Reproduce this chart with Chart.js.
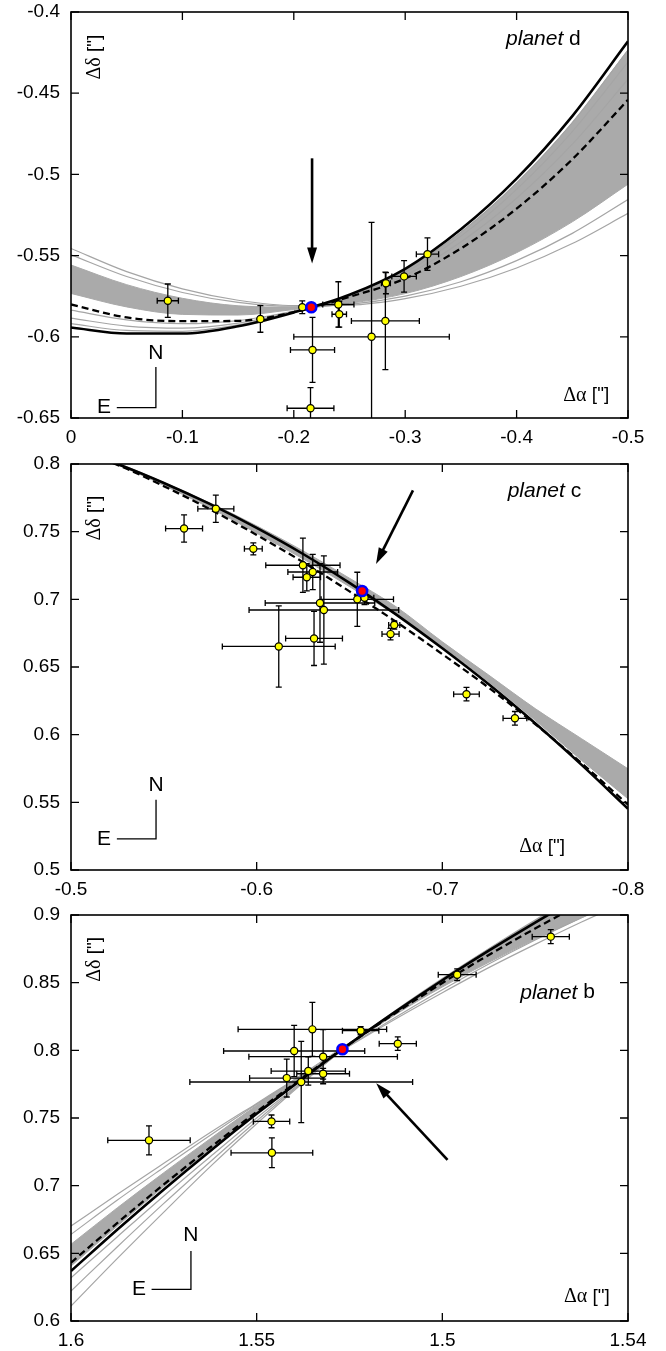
<!DOCTYPE html>
<html lang="en">
<head>
<meta charset="UTF-8">
<title>Orbit fits of planets d, c and b</title>
<script src="https://cdn.jsdelivr.net/npm/chart.js"></script>
<style>
  body { margin: 0; background: #fff; }
  .wrap { position: relative; width: 666px; height: 1351px; }
  canvas { position: absolute; left: 0; }
</style>
</head>
<body>
<div class="wrap">
  <canvas id="chartD" width="666" height="451" style="top:0"></canvas>
  <canvas id="chartC" width="666" height="451" style="top:451px"></canvas>
  <canvas id="chartB" width="666" height="449" style="top:902px"></canvas>
</div>
<script>
const SANS = '"Liberation Sans", Arial, sans-serif';
const SERIF = '"Liberation Serif", "Times New Roman", serif';

// ---------- planet d ----------
const dGridX = [0, -0.05, -0.1, -0.15, -0.2, -0.25, -0.3, -0.35, -0.4, -0.45, -0.5];
const dSolid = [-0.5943, -0.5980, -0.5980, -0.5935, -0.5850, -0.5741, -0.5581, -0.5338, -0.5026, -0.4641, -0.4181];
const dDashed = [-0.5801, -0.5881, -0.5904, -0.5902, -0.5848, -0.5754, -0.5641, -0.5456, -0.5211, -0.4907, -0.4541];
const dBandTop = [-0.5558, -0.5679, -0.5763, -0.5809, -0.5817, -0.5745, -0.5590, -0.5356, -0.5053, -0.4681, -0.4234];
const dBandBot = [-0.5733, -0.5816, -0.5862, -0.5866, -0.5832, -0.5794, -0.5734, -0.5629, -0.5482, -0.5292, -0.5060];
const dGrey = [
  [-0.5456, -0.5599, -0.5705, -0.5775, -0.5808, -0.5805, -0.5765, -0.5689, -0.5576, -0.5426, -0.5240],
  [-0.5495, -0.5629, -0.5727, -0.5788, -0.5812, -0.5800, -0.5750, -0.5661, -0.5531, -0.5363, -0.5155],
  [-0.5919, -0.5961, -0.5966, -0.5927, -0.5848, -0.5745, -0.5590, -0.5356, -0.5053, -0.4681, -0.4234],
  [-0.5885, -0.5934, -0.5947, -0.5916, -0.5845, -0.5749, -0.5603, -0.5380, -0.5092, -0.4736, -0.4308],
  [-0.5836, -0.5896, -0.5919, -0.5900, -0.5841, -0.5755, -0.5622, -0.5416, -0.5147, -0.4814, -0.4414]
];
const dPtsX = [-0.0869, -0.170, -0.2076, -0.240, -0.2408, -0.2827, -0.2822, -0.299, -0.320, -0.2698, -0.2168, -0.215];
const dPtsY = [-0.5778, -0.589, -0.5818, -0.5801, -0.5861, -0.567, -0.5902, -0.5628, -0.5491, -0.600, -0.6081, -0.644];
const dErrX = [0.0095, 0, 0, 0.014, 0.0065, 0.004, 0.0305, 0.011, 0.010, 0.0698, 0.0198, 0.021];
const dErrY = [0.0103, 0.0082, 0.0039, 0.014, 0.008, 0.0065, 0.030, 0.0097, 0.010, 0.0705, 0.020, 0.0127];
const dBest = [-0.2157, -0.5818];
const dXTicks = [0, -0.1, -0.2, -0.3, -0.4, -0.5];
const dXLabels = ['0', '-0.1', '-0.2', '-0.3', '-0.4', '-0.5'];
const dYTicks = [-0.4, -0.45, -0.5, -0.55, -0.6, -0.65];
const dYLabels = ['-0.4', '-0.45', '-0.5', '-0.55', '-0.6', '-0.65'];
const dArrow = [-0.2164, -0.4901, -0.2164, -0.5548];

// ---------- planet c ----------
const cGridX = [-0.5, -0.525, -0.55, -0.575, -0.6, -0.625, -0.65, -0.675, -0.7, -0.725, -0.75, -0.775, -0.8];
const cSolid = [0.8118, 0.8, 0.7860, 0.7703, 0.7528, 0.7335, 0.7121, 0.6889, 0.6638, 0.6372, 0.6084, 0.5777, 0.5453];
const cDashed = [0.8106, 0.7993, 0.7836, 0.7664, 0.7476, 0.7275, 0.7059, 0.6835, 0.6595, 0.6347, 0.6078, 0.5789, 0.5483];
const cBandTop = [0.8119, 0.8007, 0.7864, 0.7711, 0.7543, 0.7358, 0.7156, 0.6946, 0.6686, 0.6440, 0.6193, 0.5970, 0.5748];
const cBandBot = [0.8106, 0.7993, 0.7842, 0.7674, 0.7489, 0.7299, 0.7094, 0.6884, 0.6649, 0.6390, 0.6106, 0.5810, 0.5526];
const cGrey = [];
const cPtsX = [-0.5609, -0.578, -0.5982, -0.6249, -0.6302, -0.627, -0.6341, -0.6362, -0.6309, -0.6119, -0.6542, -0.6581, -0.6741, -0.6721, -0.713, -0.7391];
const cPtsY = [0.7523, 0.7669, 0.7373, 0.7252, 0.7202, 0.7163, 0.6973, 0.6921, 0.6711, 0.6652, 0.7, 0.7012, 0.681, 0.6743, 0.6299, 0.6121];
const cErrX = [0.00995, 0.0097, 0.0048, 0.020, 0.0134, 0.0074, 0.0295, 0.0403, 0.0153, 0.0304, 0.0195, 0.005, 0.003, 0.0046, 0.0069, 0.0064];
const cErrY = [0.0101, 0.0101, 0.0044, 0.020, 0.013, 0.010, 0.029, 0.040, 0.020, 0.030, 0.020, 0.005, 0.003, 0.0043, 0.005, 0.005];
const cBest = [-0.6568, 0.7062];
const cXTicks = [-0.5, -0.6, -0.7, -0.8];
const cXLabels = ['-0.5', '-0.6', '-0.7', '-0.8'];
const cYTicks = [0.8, 0.75, 0.7, 0.65, 0.6, 0.55, 0.5];
const cYLabels = ['0.8', '0.75', '0.7', '0.65', '0.6', '0.55', '0.5'];
const cArrow = [-0.6842, 0.7805, -0.6643, 0.7262];

// ---------- planet b ----------
const bGridX = [1.6, 1.5875, 1.575, 1.5625, 1.55, 1.5375, 1.525, 1.5125, 1.5, 1.4875, 1.475, 1.4625, 1.45];
const bSolid = [0.6369, 0.6676, 0.6972, 0.7257, 0.7531, 0.7793, 0.8047, 0.8288, 0.8518, 0.8736, 0.8944, 0.9141, 0.9326];
const bDashed = [0.6431, 0.6725, 0.7009, 0.7282, 0.7546, 0.7801, 0.8047, 0.8278, 0.8498, 0.8705, 0.8900, 0.9084, 0.9257];
const bBandTop = [0.6567, 0.6837, 0.7096, 0.7347, 0.7594, 0.7828, 0.8057, 0.8293, 0.8525, 0.8746, 0.8956, 0.9153, 0.9337];
const bBandBot = [0.6406, 0.6702, 0.6993, 0.7268, 0.7539, 0.7791, 0.8039, 0.8266, 0.8468, 0.8650, 0.8820, 0.8980, 0.9128];
const bGrey = [
  [0.6702, 0.6936, 0.7165, 0.7392, 0.7608, 0.7823, 0.8032, 0.8234, 0.8426, 0.8611, 0.8783, 0.8948, 0.9103],
  [0.6640, 0.6894, 0.7135, 0.7372, 0.7601, 0.7820, 0.8034, 0.8246, 0.8448, 0.8638, 0.8815, 0.8980, 0.9135],
  [0.6320, 0.6623, 0.6924, 0.7214, 0.7500, 0.7773, 0.8042, 0.8283, 0.8517, 0.8739, 0.8951, 0.9150, 0.9313],
  [0.6222, 0.6549, 0.6869, 0.7177, 0.7478, 0.7768, 0.8044, 0.8291, 0.8525, 0.8746, 0.8958, 0.9158, 0.9323],
  [0.6111, 0.6463, 0.6805, 0.7141, 0.7458, 0.7761, 0.8047, 0.8296, 0.8530, 0.8751, 0.8963, 0.9163, 0.9330]
];
const bPtsX = [1.579, 1.546, 1.5459, 1.5419, 1.538, 1.5361, 1.5321, 1.5399, 1.535, 1.5321, 1.522, 1.512, 1.496, 1.4708];
const bPtsY = [0.7335, 0.7475, 0.7243, 0.7795, 0.7766, 0.7847, 0.7827, 0.7995, 0.8155, 0.7953, 0.8145, 0.8049, 0.8559, 0.884];
const bErrX = [0.0111, 0.0049, 0.011, 0.010, 0.030, 0.010, 0.0071, 0.019, 0.020, 0.020, 0.0049, 0.005, 0.0051, 0.005];
const bErrY = [0.0107, 0.0047, 0.011, 0.014, 0.030, 0.0104, 0.004, 0.019, 0.020, 0.020, 0.003, 0.005, 0.0043, 0.0052];
const bBest = [1.5269, 0.8008];
const bXTicks = [1.6, 1.55, 1.5, 1.45];
const bXLabels = ['1.6', '1.55', '1.5', '1.54'];
const bYTicks = [0.9, 0.85, 0.8, 0.75, 0.7, 0.65, 0.6];
const bYLabels = ['0.9', '0.85', '0.8', '0.75', '0.7', '0.65', '0.6'];
const bArrow = [1.4986, 0.719, 1.5178, 0.7756];

// annotation anchors, in data units
const dNotes = { name: 'd', nameAt: [-0.4576, -0.4167], ddAt: [-0.021, -0.4278], daAt: [-0.4831, -0.636],
  compass: { x: -0.0762, y: -0.6436, top: -0.6186, left: -0.0411, nY: -0.6099, eX: -0.0297 } };
const cNotes = { name: 'c', nameAt: [-0.7748, 0.7798], ddAt: [-0.5126, 0.76], daAt: [-0.7661, 0.5173],
  compass: { x: -0.5458, y: 0.5230, top: 0.5519, left: -0.5247, nY: 0.5630, eX: -0.5178 } };
const bNotes = { name: 'b', nameAt: [1.4589, 0.8426], ddAt: [1.5937, 0.8672], daAt: [1.4549, 0.6177],
  compass: { x: 1.5677, y: 0.6234, top: 0.6517, left: 1.5783, nY: 0.6633, eX: 1.5817 } };

const PLOT_H = 406;

function curve(xs, ys, opts) {
  return Object.assign({
    data: xs.map((x, i) => ({ x: x, y: ys[i] })),
    pointRadius: 0,
    fill: false,
    cubicInterpolationMode: 'monotone'
  }, opts);
}

function drawErrorBars(chart, p) {
  const { ctx, chartArea: a, scales: { x, y } } = chart;
  ctx.save();
  ctx.beginPath();
  ctx.rect(a.left, a.top, a.right - a.left, a.bottom - a.top);
  ctx.clip();
  ctx.strokeStyle = '#000';
  ctx.lineWidth = 1.3;
  const cap = 3;
  p.ptsX.forEach((vx, i) => {
    const vy = p.ptsY[i];
    const px = x.getPixelForValue(vx), py = y.getPixelForValue(vy);
    ctx.beginPath();
    if (p.errX[i] > 0) {
      const x1 = x.getPixelForValue(vx - p.errX[i]), x2 = x.getPixelForValue(vx + p.errX[i]);
      ctx.moveTo(x1, py); ctx.lineTo(x2, py);
      ctx.moveTo(x1, py - cap); ctx.lineTo(x1, py + cap);
      ctx.moveTo(x2, py - cap); ctx.lineTo(x2, py + cap);
    }
    if (p.errY[i] > 0) {
      const y1 = y.getPixelForValue(vy - p.errY[i]), y2 = y.getPixelForValue(vy + p.errY[i]);
      ctx.moveTo(px, y1); ctx.lineTo(px, y2);
      ctx.moveTo(px - cap, y1); ctx.lineTo(px + cap, y1);
      ctx.moveTo(px - cap, y2); ctx.lineTo(px + cap, y2);
    }
    ctx.stroke();
  });
  ctx.restore();
}

function drawFrame(chart, p) {
  const { ctx, chartArea: a, scales: { x, y } } = chart;
  const t = 8;
  ctx.save();
  ctx.strokeStyle = '#000';
  ctx.lineWidth = 1.6;
  ctx.strokeRect(a.left, a.top, a.right - a.left, a.bottom - a.top);
  ctx.lineWidth = 1.3;
  ctx.beginPath();
  p.xTicks.forEach(v => {
    const px = x.getPixelForValue(v);
    ctx.moveTo(px, a.bottom); ctx.lineTo(px, a.bottom - t);
    ctx.moveTo(px, a.top); ctx.lineTo(px, a.top + t);
  });
  p.yTicks.forEach(v => {
    const py = y.getPixelForValue(v);
    ctx.moveTo(a.left, py); ctx.lineTo(a.left + t, py);
    ctx.moveTo(a.right, py); ctx.lineTo(a.right - t, py);
  });
  ctx.stroke();
  ctx.restore();
}

// text made of pieces with their own fonts, right-aligned or centred at (px, py)
function drawPieces(ctx, pieces, px, py, align) {
  let w = 0;
  pieces.forEach(pc => { ctx.font = pc.font; w += ctx.measureText(pc.text).width; });
  let cx = align === 'right' ? px - w : px - w / 2;
  ctx.textAlign = 'left';
  ctx.textBaseline = 'middle';
  pieces.forEach(pc => {
    ctx.font = pc.font;
    ctx.fillText(pc.text, cx, py);
    cx += ctx.measureText(pc.text).width;
  });
}

function drawNotes(chart, p) {
  const { ctx, scales: { x, y } } = chart;
  const n = p.notes;
  ctx.save();
  ctx.fillStyle = '#000';
  ctx.strokeStyle = '#000';

  // arrow pointing at the predicted position
  const ax1 = x.getPixelForValue(p.arrow[0]), ay1 = y.getPixelForValue(p.arrow[1]);
  const ax2 = x.getPixelForValue(p.arrow[2]), ay2 = y.getPixelForValue(p.arrow[3]);
  const ang = Math.atan2(ay2 - ay1, ax2 - ax1);
  const hl = 16, hw = 5;
  ctx.lineWidth = 2.6;
  ctx.beginPath();
  ctx.moveTo(ax1, ay1);
  ctx.lineTo(ax2 - hl * 0.8 * Math.cos(ang), ay2 - hl * 0.8 * Math.sin(ang));
  ctx.stroke();
  ctx.beginPath();
  ctx.moveTo(ax2, ay2);
  ctx.lineTo(ax2 - hl * Math.cos(ang) - hw * Math.sin(ang), ay2 - hl * Math.sin(ang) + hw * Math.cos(ang));
  ctx.lineTo(ax2 - hl * Math.cos(ang) + hw * Math.sin(ang), ay2 - hl * Math.sin(ang) - hw * Math.cos(ang));
  ctx.closePath();
  ctx.fill();

  // planet name
  drawPieces(ctx, [
    { text: 'planet', font: 'italic 21px ' + SANS },
    { text: ' ' + n.name, font: '21px ' + SANS }
  ], x.getPixelForValue(n.nameAt[0]), y.getPixelForValue(n.nameAt[1]), 'right');

  // axis titles inside the frame
  drawPieces(ctx, [
    { text: 'Δα', font: '20px ' + SERIF },
    { text: ' ["]', font: '19px ' + SANS }
  ], x.getPixelForValue(n.daAt[0]), y.getPixelForValue(n.daAt[1]), 'right');

  ctx.save();
  ctx.translate(x.getPixelForValue(n.ddAt[0]), y.getPixelForValue(n.ddAt[1]));
  ctx.rotate(-Math.PI / 2);
  drawPieces(ctx, [
    { text: 'Δδ', font: '20px ' + SERIF },
    { text: ' ["]', font: '19px ' + SANS }
  ], 0, 0, 'center');
  ctx.restore();

  // N / E compass
  const c = n.compass;
  const cx = x.getPixelForValue(c.x), cy = y.getPixelForValue(c.y);
  ctx.lineWidth = 1.3;
  ctx.beginPath();
  ctx.moveTo(cx, y.getPixelForValue(c.top));
  ctx.lineTo(cx, cy);
  ctx.lineTo(x.getPixelForValue(c.left), cy);
  ctx.stroke();
  ctx.font = '21px ' + SANS;
  ctx.textAlign = 'center';
  ctx.textBaseline = 'middle';
  ctx.fillText('N', cx, y.getPixelForValue(c.nY));
  ctx.fillText('E', x.getPixelForValue(c.eX), cy);
  ctx.restore();
}

function makePanel(p) {
  const canvas = document.getElementById(p.canvas);
  const H = canvas.height;
  const datasets = [];
  datasets.push(curve(p.gridX, p.bandTop, { borderColor: '#a9a9a9', borderWidth: 1, order: 6 }));
  datasets.push(curve(p.gridX, p.bandBot, { borderColor: '#a9a9a9', borderWidth: 1, backgroundColor: '#aaaaaa', fill: '-1', order: 6 }));
  p.grey.forEach(g => datasets.push(curve(p.gridX, g, { borderColor: '#a5a5a5', borderWidth: 1.2, order: 5 })));
  datasets.push(curve(p.gridX, p.dashed, { borderColor: '#000', borderWidth: 2.3, borderDash: [7, 4], order: 4 }));
  datasets.push(curve(p.gridX, p.solid, { borderColor: '#000', borderWidth: 2.6, order: 3 }));
  p.ptsIndex = datasets.length;
  datasets.push({
    data: p.ptsX.map((vx, i) => ({ x: vx, y: p.ptsY[i] })),
    showLine: false,
    pointRadius: 3.6,
    pointBackgroundColor: '#ffff00',
    pointBorderColor: '#000',
    pointBorderWidth: 1.2,
    order: 2
  });
  datasets.push({
    data: [{ x: p.best[0], y: p.best[1] }],
    showLine: false,
    pointRadius: 5,
    pointBackgroundColor: '#ff0000',
    pointBorderColor: '#0000ff',
    pointBorderWidth: 2.6,
    order: 1
  });

  const tickFont = { family: SANS, size: 19 };
  new Chart(canvas.getContext('2d'), {
    type: 'line',
    data: { datasets: datasets },
    options: {
      responsive: false,
      animation: false,
      events: [],
      layout: { padding: { top: p.padTop, right: 38, bottom: 0, left: 0 } },
      plugins: { legend: { display: false }, tooltip: { enabled: false } },
      scales: {
        x: {
          type: 'linear', reverse: true, min: p.xMin, max: p.xMax,
          grid: { display: false, drawTicks: false }, border: { display: false },
          afterBuildTicks: s => { s.ticks = p.xTicks.map(v => ({ value: v })); },
          ticks: { autoSkip: false, maxRotation: 0, padding: 8, color: '#000', font: tickFont,
                   callback: (v, i) => p.xLabels[i] },
          afterFit: s => { s.height = H - p.padTop - PLOT_H; s.paddingLeft = 0; s.paddingRight = 0; s.paddingTop = 0; s.paddingBottom = 0; }
        },
        y: {
          type: 'linear', min: p.yMin, max: p.yMax,
          grid: { display: false, drawTicks: false }, border: { display: false },
          afterBuildTicks: s => { s.ticks = p.yTicks.map(v => ({ value: v })); },
          ticks: { autoSkip: false, padding: 11, color: '#000', font: tickFont,
                   callback: (v, i) => p.yLabels[i] },
          afterFit: s => { s.width = 71; s.paddingTop = 0; s.paddingBottom = 0; s.paddingLeft = 0; s.paddingRight = 0; }
        }
      }
    },
    plugins: [{
      id: 'deco',
      beforeDatasetDraw(chart, args) {
        if (args.index === p.ptsIndex) drawErrorBars(chart, p);
      },
      afterDatasetsDraw(chart) {
        drawFrame(chart, p);
        drawNotes(chart, p);
      }
    }]
  });
}

makePanel({ canvas: 'chartD', padTop: 12, xMin: -0.5, xMax: 0, yMin: -0.65, yMax: -0.4,
  gridX: dGridX, solid: dSolid, dashed: dDashed, bandTop: dBandTop, bandBot: dBandBot, grey: dGrey,
  ptsX: dPtsX, ptsY: dPtsY, errX: dErrX, errY: dErrY, best: dBest,
  xTicks: dXTicks, xLabels: dXLabels, yTicks: dYTicks, yLabels: dYLabels, arrow: dArrow, notes: dNotes });

makePanel({ canvas: 'chartC', padTop: 13, xMin: -0.8, xMax: -0.5, yMin: 0.5, yMax: 0.8,
  gridX: cGridX, solid: cSolid, dashed: cDashed, bandTop: cBandTop, bandBot: cBandBot, grey: cGrey,
  ptsX: cPtsX, ptsY: cPtsY, errX: cErrX, errY: cErrY, best: cBest,
  xTicks: cXTicks, xLabels: cXLabels, yTicks: cYTicks, yLabels: cYLabels, arrow: cArrow, notes: cNotes });

makePanel({ canvas: 'chartB', padTop: 13, xMin: 1.45, xMax: 1.6, yMin: 0.6, yMax: 0.9,
  gridX: bGridX, solid: bSolid, dashed: bDashed, bandTop: bBandTop, bandBot: bBandBot, grey: bGrey,
  ptsX: bPtsX, ptsY: bPtsY, errX: bErrX, errY: bErrY, best: bBest,
  xTicks: bXTicks, xLabels: bXLabels, yTicks: bYTicks, yLabels: bYLabels, arrow: bArrow, notes: bNotes });
</script>
</body>
</html>
